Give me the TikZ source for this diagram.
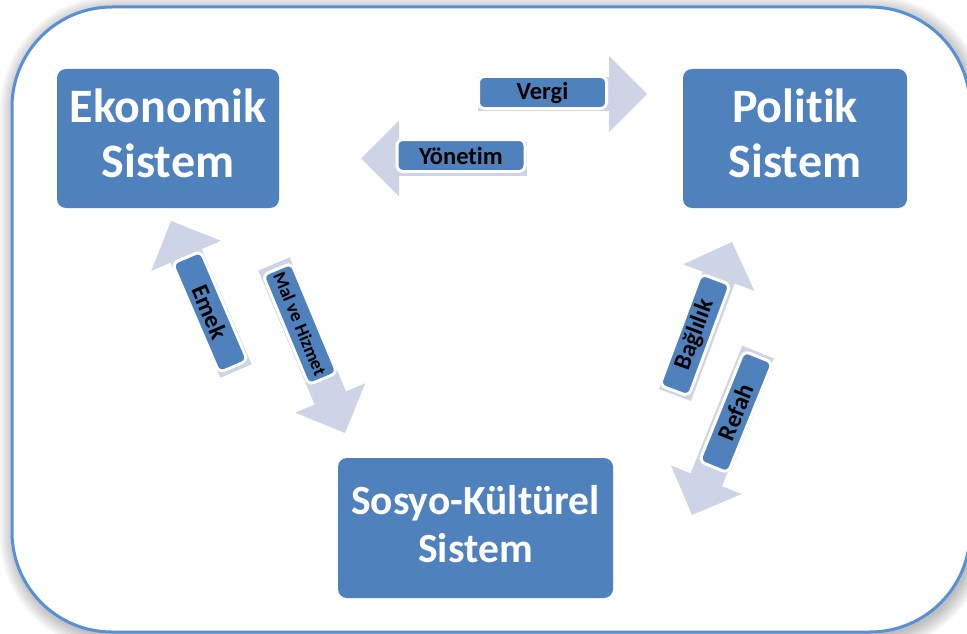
\documentclass[tikz,border=0pt]{standalone}
\usepackage{fontspec}
\setmainfont{Carlito}[Ligatures={NoCommon}]
\usetikzlibrary{arrows.meta,shadows}
\definecolor{sysblue}{HTML}{4F81BD}
\definecolor{flowfill}{RGB}{205,212,230}
\definecolor{framec}{HTML}{5590D8}

\begin{document}
\begin{tikzpicture}[x=1pt,y=-1pt,
  sysbox/.style={fill=sysblue, rounded corners=9pt, inner sep=0pt},
  systext/.style={text=white, align=center, inner sep=0pt},
  bigtext/.style={systext, font=\fontsize{48}{55}\selectfont\bfseries},
  midtext/.style={systext, font=\fontsize{41.5}{48}\selectfont\bfseries},
  flow/.style={draw=flowfill, line width=34pt,
    -{Triangle[width=76pt,length=38pt,line width=0pt]}},
  tag/.style={fill=sysblue, draw=white, line width=3pt, rounded corners=6pt,
    minimum width=119pt, minimum height=31pt, inner sep=0pt,
    font=\fontsize{24.5}{24.5}\selectfont\bfseries, text=black,
    drop shadow={shadow xshift=1.2pt, shadow yshift=-1.5pt, opacity=0.25}},
  htag/.style={tag, minimum width=128pt, minimum height=32pt},
]
\useasboundingbox (0,0) rectangle (967,634);
\clip (0,0) rectangle (967,634);

% soft shadow under the frame
\foreach \r [evaluate=\r as \rc using 100+\r] in {14,12,...,0}
  \fill[black, opacity=0.035, rounded corners=\rc pt]
    (12-\r+2, 7-\r+3) rectangle (970+\r+3, 632+\r+4);

% frame
\draw[line width=3pt, draw=framec, fill=white, rounded corners=100pt]
  (12,7) rectangle (970,632);

% systems
\node[sysbox, minimum width=222pt, minimum height=139pt] (eko) at (168,138.5) {};
\node[bigtext] (ekoText) at ([yshift=5pt]eko.center) {Ekonomik\\Sistem};

\node[sysbox, minimum width=224pt, minimum height=139pt] (pol) at (795,138.5) {};
\node[bigtext] (polText) at ([yshift=5pt]pol.center) {Politik\\Sistem};

\node[sysbox, minimum width=275pt, minimum height=140pt] (sos) at (475.5,528) {};
\node[midtext] (sosText) at ([yshift=4pt]sos.center) {Sosyo-Kültürel\\Sistem};

% flows between the systems
\coordinate (vergiTail) at (478,94);   \coordinate (vergiTip) at (647,94);
\coordinate (yonTail) at (527,158.5);  \coordinate (yonTip) at (361,158.5);
\coordinate (emekTail) at (236,371);   \coordinate (emekTip) at (171,221);
\coordinate (malTail) at (274,264);    \coordinate (malTip) at (345,433);
\coordinate (bagTail) at (675,395);    \coordinate (bagTip) at (732,242);
\coordinate (refTail) at (758,352);    \coordinate (refTip) at (692,515);

\draw[flow] (vergiTail) -- (vergiTip);
\draw[flow] (yonTail) -- (yonTip);
\draw[flow] (emekTail) -- (emekTip);
\draw[flow] (malTail) -- (malTip);
\draw[flow] (bagTail) -- (bagTip);
\draw[flow] (refTail) -- (refTip);

% flow labels
\node[htag] (vergi) at (542.5,92.5) {Vergi};
\node[htag] (yonetim) at (461,155.5) {Yönetim};
\node[tag, rotate=-66.8] (emek) at (210,312) {Emek};
\node[tag, rotate=-67.4, font=\fontsize{18.5}{18.5}\selectfont\bfseries] (mal) at (300,324) {Mal ve Hizmet};
\node[tag, rotate=69.6] (bag) at (695,335) {Bağlılık};
\node[tag, rotate=68] (refah) at (736,412) {Refah};
\end{tikzpicture}
\end{document}
